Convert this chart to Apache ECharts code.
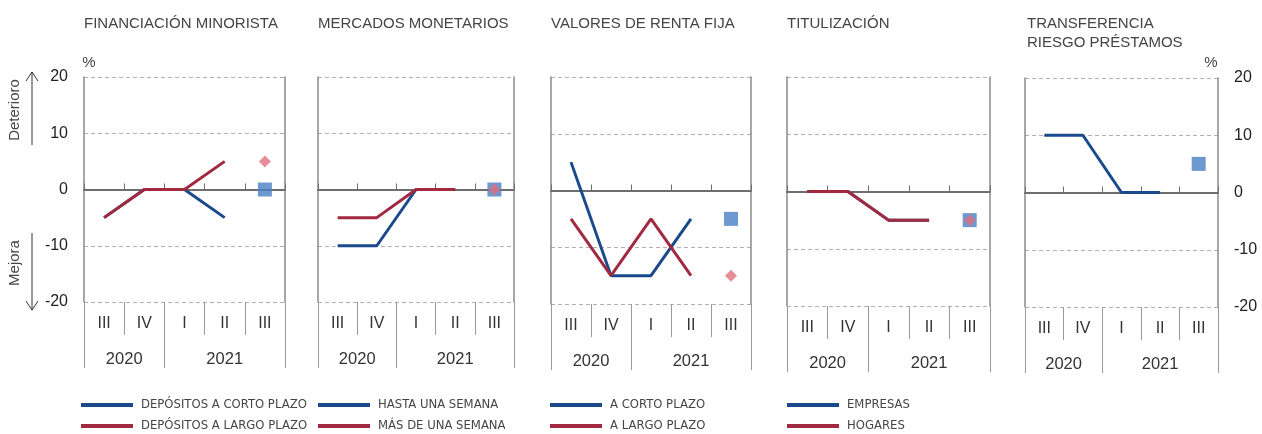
<!DOCTYPE html>
<html>
<head>
<meta charset="utf-8">
<script src="https://cdn.jsdelivr.net/npm/echarts@6/dist/echarts.min.js"></script>
<style>
  html, body { margin: 0; padding: 0; background: #fff; }
  #chart { width: 1262px; height: 434px; }
</style>
</head>
<body>
<div id="chart"></div>
<script>
// datos
const quarters = ['III', 'IV', 'I', 'II', 'III'];
const years = ['2020', '2021'];
const panelTitles = ['FINANCIACIÓN MINORISTA', 'MERCADOS MONETARIOS', 'VALORES DE RENTA FIJA', 'TITULIZACIÓN', 'TRANSFERENCIA\nRIESGO PRÉSTAMOS'];
const blueNames = ['DEPÓSITOS A CORTO PLAZO', 'HASTA UNA SEMANA', 'A CORTO PLAZO', 'EMPRESAS', 'TRANSFERENCIA RIESGO PRÉSTAMOS'];
const redNames = ['DEPÓSITOS A LARGO PLAZO', 'MÁS DE UNA SEMANA', 'A LARGO PLAZO', 'HOGARES', null];
const blueLines = [
  [-5, 0, 0, -5, null],
  [-10, -10, 0, 0, null],
  [5, -15, -15, -5, null],
  [0, 0, -5, -5, null],
  [10, 10, 0, 0, null]
];
const redLines = [
  [-5, 0, 0, 5, null],
  [-5, -5, 0, 0, null],
  [-5, -15, -5, -15, null],
  [0, 0, -5, -5, null],
  null
];
// previsión III 2021
const blueForecast = [0, 0, -5, -5, 5];
const redForecast = [5, 0, -15, -5, null];
const yMin = -20, yMax = 20, yStep = 10;

// colores y posiciones
const BLUE = '#1b4a8c';
const RED = '#a12a41';
const SQUARE = '#4a7fc4';
const DIAMOND = '#e0717f';
const FONT = 'Liberation Sans, Arial, sans-serif';
const panels = [
  { left: 84, width: 201, top: 77, height: 225, legendX: 81 },
  { left: 318, width: 196, top: 77, height: 225, legendX: 318 },
  { left: 551, width: 200, top: 77, height: 227, legendX: 550 },
  { left: 787, width: 203, top: 77, height: 229, legendX: 787 },
  { left: 1025, width: 193, top: 78, height: 229, legendX: null }
];

// leyenda en letra estrecha: se busca una fuente condensada instalada
function narrowFont() {
  const ctx = document.createElement('canvas').getContext('2d');
  const sample = 'DEPÓSITOS A CORTO PLAZO';
  ctx.font = '13px monospace';
  const mono = ctx.measureText(sample).width;
  let family = 'Liberation Sans';
  for (const f of ['Liberation Sans Narrow', 'DejaVu Sans Condensed', 'Arial Narrow']) {
    ctx.font = '13px "' + f + '", monospace';
    if (Math.abs(ctx.measureText(sample).width - mono) > 0.5) { family = f; break; }
  }
  ctx.font = '13px "' + family + '"';
  const w = ctx.measureText(sample).width;
  return { family: family, size: Math.min(13, 13 * 166 / w) };
}
const legendFont = narrowFont();

const grid = [], xAxis = [], yAxis = [], series = [], title = [], legend = [];

panels.forEach((p, i) => {
  grid.push({ left: p.left, top: p.top, width: p.width, height: p.height, outerBoundsMode: 'none' });

  // eje en el cero
  xAxis.push({
    type: 'category', gridIndex: i, data: quarters, position: 'bottom',
    axisLine: { onZero: true, lineStyle: { color: '#6e6e6e', width: 2 } },
    axisTick: { show: true, interval: 0, inside: true, length: 6, lineStyle: { color: '#6e6e6e' } },
    axisLabel: { show: false }, splitLine: { show: false }
  });
  // trimestres
  xAxis.push({
    type: 'category', gridIndex: i, data: quarters, position: 'bottom',
    axisLine: { show: false, onZero: false },
    axisTick: { show: true, interval: 0, length: 33, lineStyle: { color: '#999' } },
    axisLabel: { interval: 0, margin: 14, fontSize: 16, color: '#333', fontFamily: FONT },
    splitLine: { show: false }
  });
  // años
  xAxis.push({
    type: 'value', gridIndex: i, min: 0, max: 5, position: 'bottom', offset: 33,
    axisLine: { show: false, onZero: false },
    axisTick: { show: true, customValues: [0, 2, 5], length: 33, lineStyle: { color: '#999' } },
    axisLabel: { customValues: [1, 3.5], formatter: v => (v < 2 ? years[0] : years[1]), margin: 16, fontSize: 16.5, color: '#333', fontFamily: FONT },
    splitLine: { show: false }
  });

  yAxis.push({
    type: 'value', gridIndex: i, min: yMin, max: yMax, interval: yStep, position: 'left',
    axisLine: { show: true, onZero: false, lineStyle: { color: '#8a8a8a', width: 1.5 } },
    axisTick: { show: false },
    axisLabel: { show: i === 0, margin: 16, fontSize: 16, color: '#222', fontFamily: FONT },
    splitLine: { show: true, lineStyle: { color: '#b0b0b0', type: [4, 3], width: 1 } }
  });
  yAxis.push({
    type: 'value', gridIndex: i, min: yMin, max: yMax, interval: yStep, position: 'right',
    axisLine: { show: true, onZero: false, lineStyle: { color: '#8a8a8a', width: 1.5 } },
    axisTick: { show: false },
    axisLabel: { show: i === 4, margin: 16, fontSize: 16, color: '#222', fontFamily: FONT },
    splitLine: { show: false }
  });

  const xi = i * 3, yi = i * 2;
  series.push({
    type: 'line', name: blueNames[i], xAxisIndex: xi, yAxisIndex: yi, data: blueLines[i],
    symbol: 'none', color: BLUE, lineStyle: { color: BLUE, width: 3 }, z: 3
  });
  if (redLines[i]) {
    series.push({
      type: 'line', name: redNames[i], xAxisIndex: xi, yAxisIndex: yi, data: redLines[i],
      symbol: 'none', color: RED, lineStyle: { color: RED, width: 3 }, z: 4
    });
  }
  if (blueForecast[i] != null) {
    series.push({
      type: 'scatter', name: 'prev-a-' + i, xAxisIndex: xi, yAxisIndex: yi,
      data: [[4, blueForecast[i]]], symbol: 'rect', symbolSize: 14,
      itemStyle: { color: SQUARE }, z: 5
    });
  }
  if (redForecast[i] != null) {
    series.push({
      type: 'scatter', name: 'prev-b-' + i, xAxisIndex: xi, yAxisIndex: yi,
      data: [[4, redForecast[i]]], symbol: 'diamond', symbolSize: 12,
      itemStyle: { color: DIAMOND }, z: 6
    });
  }

  title.push({
    text: panelTitles[i], left: i === 4 ? p.left + 2 : p.left, top: 14, padding: 0,
    textStyle: { fontSize: 15, fontWeight: 'normal', color: '#444', fontFamily: FONT, lineHeight: 19 }
  });

  if (p.legendX != null) {
    legend.push({
      data: [blueNames[i], redNames[i]], orient: 'vertical', left: p.legendX, top: 398,
      itemWidth: 52, itemHeight: 4, itemGap: 7, icon: 'rect', selectedMode: false, padding: 0,
      textStyle: { fontFamily: legendFont.family, fontSize: legendFont.size, color: '#444', lineHeight: 14, padding: [0, 0, 0, 3] }
    });
  }
});

const txt = (x, y, text, rot) => ({
  type: 'text', x: x, y: y, rotation: rot || 0,
  style: { text: text, fontSize: 15, fontFamily: FONT, fill: '#444', align: 'center', verticalAlign: 'middle', textAlign: 'center', textVerticalAlign: 'middle' }
});
const ln = pts => ({ type: 'polyline', shape: { points: pts }, style: { stroke: '#333', lineWidth: 1, fill: null } });

const graphic = [
  txt(89, 63, '%'),
  txt(1211, 63, '%'),
  txt(15, 110, 'Deterioro', Math.PI / 2),
  txt(15, 263, 'Mejora', Math.PI / 2),
  ln([[32, 72], [32, 145]]),
  ln([[26, 81], [32, 72], [38, 81]]),
  ln([[32, 233], [32, 310]]),
  ln([[26, 301], [32, 310], [38, 301]])
];

const chart = echarts.init(document.getElementById('chart'));
chart.setOption({
  animation: false,
  title: title,
  legend: legend,
  grid: grid,
  xAxis: xAxis,
  yAxis: yAxis,
  series: series,
  graphic: graphic
});
</script>
</body>
</html>
